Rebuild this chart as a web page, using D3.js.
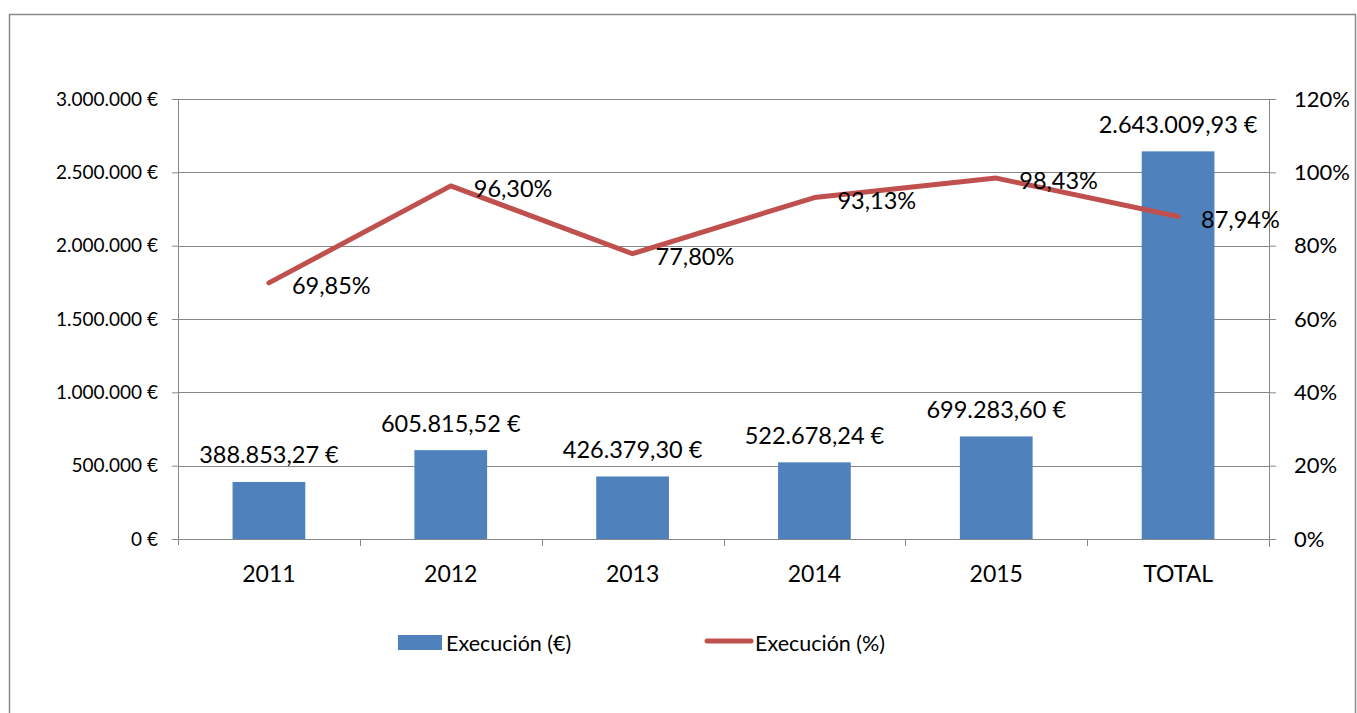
<!DOCTYPE html>
<html><head><meta charset="utf-8">
<script src="https://cdn.jsdelivr.net/npm/d3@7"></script>
<style>body{margin:0;background:#fff}svg{display:block}</style>
</head><body>
<svg id="c" width="1357" height="713"></svg>
<script>
const categories = ["2011","2012","2013","2014","2015","TOTAL"];
const amounts = [388853.27, 605815.52, 426379.30, 522678.24, 699283.60, 2643009.93];
const amountLabels = ["388.853,27 €","605.815,52 €","426.379,30 €","522.678,24 €","699.283,60 €","2.643.009,93 €"];
const percents = [69.85, 96.30, 77.80, 93.13, 98.43, 87.94];
const percentLabels = ["69,85%","96,30%","77,80%","93,13%","98,43%","87,94%"];
const leftTicks = [0,500000,1000000,1500000,2000000,2500000,3000000];
const leftTickLabels = ["0 €","500.000 €","1.000.000 €","1.500.000 €","2.000.000 €","2.500.000 €","3.000.000 €"];
const rightTicks = [0,20,40,60,80,100,120];
const rightTickLabels = ["0%","20%","40%","60%","80%","100%","120%"];
const seriesNames = ["Execución (€)","Execución (%)"];

const font = "Lato, 'Open Sans', sans-serif";
const svg = d3.select("#c");
const L = 178, R = 1269, T = 99, B = 539;
const grid = "#878787";

// outer border
svg.append("rect").attr("x",9.5).attr("y",14.5).attr("width",1346).attr("height",720)
  .attr("fill","none").attr("stroke","#8a8a8a").attr("stroke-width",1.5);

const x = d3.scaleBand().domain(categories).range([L,R]).paddingInner(0.6).paddingOuter(0.3);
const xb = d3.scaleBand().domain(categories).range([L,R]);
const y = d3.scaleLinear().domain([0,3000000]).range([B,T]);
const y2 = d3.scaleLinear().domain([0,120]).range([B,T]);

// gridlines
svg.append("g").selectAll("line").data(leftTicks.slice(1)).join("line")
  .attr("x1",L).attr("x2",R).attr("y1",d=>Math.round(y(d))+0.5).attr("y2",d=>Math.round(y(d))+0.5)
  .attr("stroke",grid).attr("stroke-width",1);

// left axis
const la = svg.append("g").attr("transform",`translate(${L},0)`)
  .call(d3.axisLeft(y).tickValues(leftTicks).tickSize(6).tickFormat((d,i)=>leftTickLabels[i]));
la.select(".domain").attr("stroke",grid).attr("d",`M0.5,${B+6}V${T}`);
la.selectAll(".tick line").attr("stroke",grid);
la.selectAll(".tick text").attr("font-family",font).attr("font-size",19).attr("fill","#000").attr("x",-20);

// right axis
const ra = svg.append("g").attr("transform",`translate(${R},0)`)
  .call(d3.axisRight(y2).tickValues(rightTicks).tickSize(7).tickFormat((d,i)=>rightTickLabels[i]));
ra.select(".domain").attr("stroke",grid).attr("d",`M0.5,${B+8}V${T}`);
ra.selectAll(".tick line").attr("stroke",grid);
ra.selectAll(".tick text").attr("font-family",font).attr("font-size",22).attr("fill","#000").attr("x",25);

// bottom axis
const ba = svg.append("g").attr("transform",`translate(0,${B})`)
  .call(d3.axisBottom(xb).tickSize(0).tickPadding(27));
ba.select(".domain").attr("stroke",grid).attr("d",`M${L},0.5H${R}`);
ba.selectAll(".tick text").attr("font-family",font).attr("font-size",23).attr("fill","#000");
svg.append("g").selectAll("line").data(categories.slice(1)).join("line")
  .attr("x1",d=>Math.round(xb(d))+0.5).attr("x2",d=>Math.round(xb(d))+0.5)
  .attr("y1",B).attr("y2",B+7).attr("stroke",grid);

// bars
svg.append("g").selectAll("rect").data(amounts).join("rect")
  .attr("x",(d,i)=>x(categories[i])).attr("width",x.bandwidth())
  .attr("y",d=>y(d)).attr("height",d=>B-y(d)).attr("fill","#4F81BD");

// bar labels
svg.append("g").selectAll("text").data(amounts).join("text")
  .attr("x",(d,i)=>xb(categories[i])+xb.bandwidth()/2).attr("y",d=>y(d)-18.5)
  .attr("text-anchor","middle").attr("font-family",font).attr("font-size",23.5).attr("fill","#000")
  .text((d,i)=>amountLabels[i]);

// line
const line = d3.line().x((d,i)=>xb(categories[i])+xb.bandwidth()/2).y(d=>y2(d));
svg.append("path").datum(percents).attr("d",line).attr("fill","none")
  .attr("stroke","#C0504D").attr("stroke-width",5).attr("stroke-linejoin","round").attr("stroke-linecap","round");

// percent labels
svg.append("g").selectAll("text").data(percents).join("text")
  .attr("x",(d,i)=>xb(categories[i])+xb.bandwidth()/2+23).attr("y",d=>y2(d)+2)
  .attr("dominant-baseline","central").attr("font-family",font).attr("font-size",23.5).attr("fill","#000")
  .text((d,i)=>percentLabels[i]);

// legend
const lg = svg.append("g");
lg.append("rect").attr("x",398).attr("y",635).attr("width",44).attr("height",15).attr("fill","#4F81BD");
lg.append("text").attr("x",446).attr("y",643).attr("dominant-baseline","central")
  .attr("font-family",font).attr("font-size",21.5).text(seriesNames[0]);
lg.append("line").attr("x1",707).attr("x2",751).attr("y1",641).attr("y2",641)
  .attr("stroke","#C0504D").attr("stroke-width",5).attr("stroke-linecap","round");
lg.append("text").attr("x",755).attr("y",643).attr("dominant-baseline","central")
  .attr("font-family",font).attr("font-size",21.5).text(seriesNames[1]);
</script>
</body></html>
